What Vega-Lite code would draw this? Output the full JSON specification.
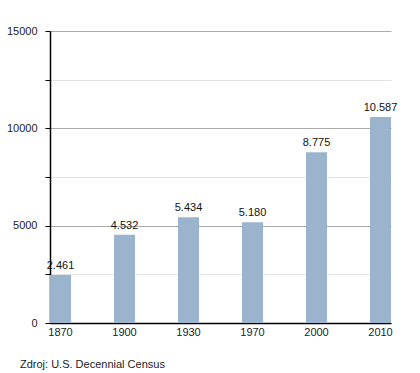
{
  "$schema": "https://vega.github.io/schema/vega-lite/v6.json",
  "width": 341,
  "height": 292,
  "autosize": {"type": "none"},
  "padding": {"left": 50, "top": 31, "right": 29, "bottom": 50},
  "background": "white",
  "config": {
    "font": "Liberation Sans",
    "view": {"stroke": null}
  },
  "title": {
    "text": "Zdroj: U.S. Decennial Census",
    "orient": "bottom",
    "anchor": "start",
    "frame": "group",
    "dx": -30,
    "offset": 22,
    "fontSize": 11,
    "fontWeight": "normal",
    "color": "#222"
  },
  "data": {
    "values": [
      {"year": "1870", "value": 2461, "label": "2.461"},
      {"year": "1900", "value": 4532, "label": "4.532"},
      {"year": "1930", "value": 5434, "label": "5.434"},
      {"year": "1970", "value": 5180, "label": "5.180"},
      {"year": "2000", "value": 8775, "label": "8.775"},
      {"year": "2010", "value": 10587, "label": "10.587"}
    ]
  },
  "encoding": {
    "x": {
      "field": "year",
      "type": "ordinal",
      "title": null,
      "scale": {"paddingInner": 0.672, "paddingOuter": 0},
      "axis": {
        "labelAngle": 0,
        "ticks": false,
        "domainColor": "#000",
        "domainWidth": 1.5,
        "labelFontSize": 11,
        "labelColor": "#222",
        "labelPadding": 3
      }
    },
    "y": {
      "field": "value",
      "type": "quantitative",
      "title": null,
      "scale": {"domain": [0, 15000], "nice": false},
      "axis": {
        "values": [0, 2500, 5000, 7500, 10000, 12500, 15000],
        "labelExpr": "datum.value % 5000 === 0 ? datum.value : ''",
        "gridColor": {"condition": {"test": "datum.value % 5000 === 0", "value": "#aaaaaa"}, "value": "#e2e2e2"},
        "domainColor": "#000",
        "domainWidth": 1.5,
        "tickColor": "#000",
        "tickSize": 5,
        "labelPadding": 8,
        "labelFontSize": 11,
        "labelColor": "#222"
      }
    }
  },
  "layer": [
    {"mark": {"type": "bar", "color": "#9bb4cd"}},
    {
      "mark": {"type": "text", "baseline": "bottom", "dy": -4, "fontSize": 11, "color": "#111"},
      "encoding": {"text": {"field": "label"}}
    }
  ]
}
